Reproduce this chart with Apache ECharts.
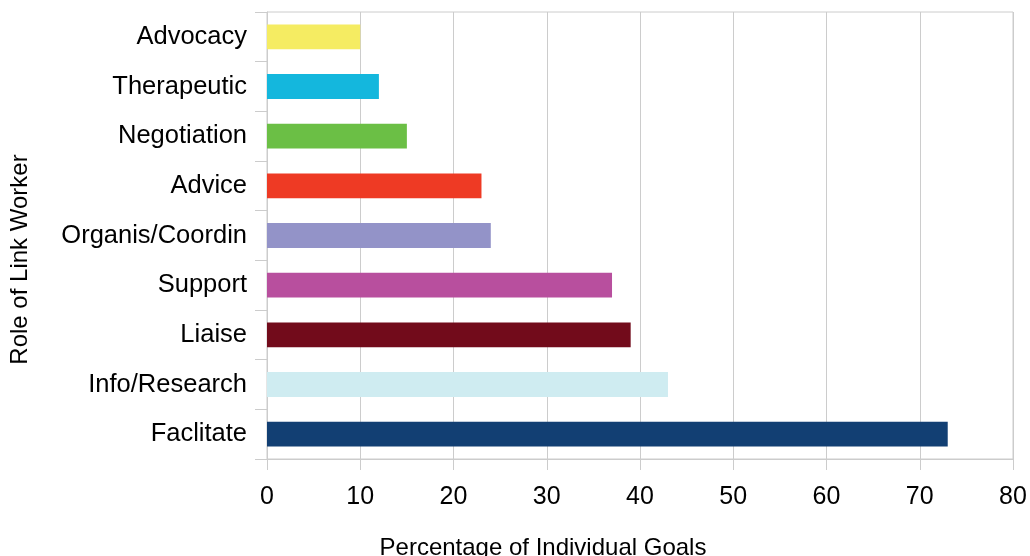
<!DOCTYPE html>
<html>
<head>
<meta charset="utf-8">
<script src="https://cdn.jsdelivr.net/npm/echarts@6/dist/echarts.min.js"></script>
<style>
  html, body { margin: 0; padding: 0; background: #fff; }
  #chart { width: 1030px; height: 556px; }
</style>
</head>
<body>
<div id="chart"></div>
<script>
// Roles, listed bottom to top as drawn on the category axis
const roles = ['Faclitate', 'Info/Research', 'Liaise', 'Support', 'Organis/Coordin',
               'Advice', 'Negotiation', 'Therapeutic', 'Advocacy'];
const goalShare = [73, 43, 39, 37, 24, 23, 15, 12, 10];
const roleColors = ['#123f73', '#cfecf1', '#720b1b', '#b84f9e', '#9393c8',
                    '#ee3a24', '#6bbf45', '#14b7dd', '#f5ec62'];
const xTicks = { min: 0, max: 80, step: 10 };

const chart = echarts.init(document.getElementById('chart'), null, { renderer: 'canvas' });
const font = 'Liberation Sans, Arial, sans-serif';

chart.setOption({
  animation: false,
  grid: {
    left: 267, right: 17, top: 12, bottom: 97,
    outerBoundsMode: 'none', containLabel: false,
    show: true, borderColor: '#cccccc', borderWidth: 1
  },
  xAxis: {
    type: 'value',
    min: xTicks.min, max: xTicks.max, interval: xTicks.step,
    name: 'Percentage of Individual Goals',
    nameLocation: 'middle', nameGap: 77,
    nameTextStyle: { fontFamily: font, fontSize: 24, color: '#000', padding: [0, 194, 0, 0] },
    axisLine: { show: true, lineStyle: { color: '#cccccc' } },
    axisTick: { show: true, length: 11, lineStyle: { color: '#cccccc' } },
    axisLabel: { fontFamily: font, fontSize: 25, color: '#000', margin: 26 },
    splitLine: { show: true, lineStyle: { color: '#cccccc' } }
  },
  yAxis: {
    type: 'category',
    data: roles,
    name: 'Role of Link Worker',
    nameLocation: 'middle', nameGap: 235,
    nameTextStyle: { fontFamily: font, fontSize: 24, color: '#000', padding: [0, 48, 0, 0] },
    axisLine: { show: true, lineStyle: { color: '#cccccc' } },
    axisTick: { show: true, length: 12, lineStyle: { color: '#cccccc' } },
    axisLabel: { fontFamily: font, fontSize: 25.5, color: '#000', margin: 20, padding: [8, 0, 0, 0] },
    splitLine: { show: false }
  },
  series: [{
    type: 'bar',
    data: goalShare.map((v, i) => ({ value: v, itemStyle: { color: roleColors[i] } })),
    barWidth: '50%'
  }]
});
</script>
</body>
</html>
